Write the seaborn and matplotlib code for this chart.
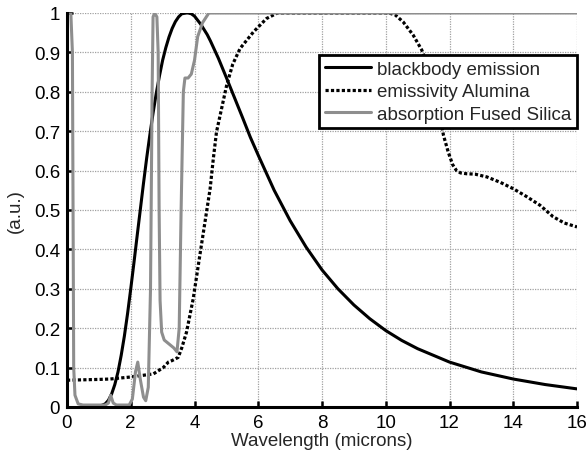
import matplotlib
matplotlib.use("Agg")
import matplotlib.pyplot as plt
import seaborn as sns

# Blackbody emission (normalized)
bb_x = [1.0, 1.2, 1.3, 1.4, 1.5, 1.6, 1.7, 1.8, 1.9, 2.0, 2.1, 2.2, 2.3, 2.4, 2.5, 2.6, 2.7,
        2.8, 2.9, 3.0, 3.1, 3.2, 3.3, 3.4, 3.5, 3.6, 3.75, 3.8, 3.9, 4.0, 4.2, 4.4, 4.5, 4.75,
        5.0, 5.25, 5.5, 5.75, 6.0, 6.5, 7.0, 7.5, 8.0, 8.5, 9.0, 9.5, 10.0, 10.5, 11.0, 12.0,
        13.0, 14.0, 15.0, 16.0]
bb_y = [0.001, 0.008, 0.017, 0.033, 0.057, 0.089, 0.131, 0.180, 0.237, 0.300, 0.366, 0.434,
        0.501, 0.568, 0.632, 0.691, 0.746, 0.796, 0.840, 0.880, 0.912, 0.939, 0.961, 0.978,
        0.990, 0.998, 1.000, 1.000, 0.998, 0.992, 0.971, 0.945, 0.929, 0.885, 0.836, 0.786,
        0.736, 0.685, 0.639, 0.550, 0.473, 0.406, 0.348, 0.300, 0.259, 0.224, 0.194, 0.169,
        0.148, 0.114, 0.089, 0.071, 0.057, 0.046]

# Emissivity of Alumina
al_x = [0.0, 1.0, 1.35, 1.98, 2.71, 3.02, 3.18, 3.3, 3.49, 3.6, 3.75, 3.96, 4.12, 4.28,
        4.49, 4.59, 4.69, 5.01, 5.2, 5.43, 5.85, 6.26, 6.6, 8.0, 10.1, 10.3, 10.55, 10.86,
        11.13, 11.4, 11.65, 11.81, 11.96, 12.1, 12.22, 12.35, 12.54, 12.8, 13.17, 13.6,
        14.0, 14.4, 14.84, 15.25, 15.6, 16.0]
al_y = [0.068, 0.070, 0.071, 0.076, 0.084, 0.100, 0.114, 0.118, 0.126, 0.150, 0.190, 0.275,
        0.360, 0.444, 0.554, 0.630, 0.698, 0.817, 0.870, 0.910, 0.952, 0.986, 1.000, 1.000,
        1.000, 0.995, 0.977, 0.944, 0.906, 0.850, 0.760, 0.690, 0.647, 0.615, 0.600, 0.594,
        0.592, 0.591, 0.584, 0.570, 0.554, 0.535, 0.512, 0.483, 0.467, 0.457]

# Absorption of Fused Silica
fs_x = [0.02, 0.12, 0.17, 0.19, 0.21, 0.25, 0.35, 0.5, 1.2, 1.3, 1.37, 1.45, 1.55, 1.95,
        2.05, 2.15, 2.22, 2.3, 2.4, 2.47, 2.55, 2.62, 2.67, 2.7, 2.75, 2.82, 2.86, 2.89,
        2.92, 2.97, 3.05, 3.2, 3.35, 3.45, 3.52, 3.58, 3.65, 3.7, 3.8, 3.9, 4.0, 4.1, 4.25,
        4.45, 16.0]
fs_y = [1.0, 1.0, 0.9, 0.5, 0.1, 0.03, 0.008, 0.005, 0.005, 0.01, 0.03, 0.01, 0.005, 0.005,
        0.02, 0.09, 0.114, 0.07, 0.025, 0.016, 0.05, 0.3, 0.8, 0.99, 1.0, 0.99, 0.9, 0.5,
        0.27, 0.19, 0.17, 0.16, 0.15, 0.14, 0.2, 0.5, 0.8, 0.835, 0.835, 0.845, 0.88, 0.94,
        0.975, 1.0, 1.0]

labels = ["blackbody emission", "emissivity Alumina", "absorption Fused Silica"]
x_ticks = [0, 2, 4, 6, 8, 10, 12, 14, 16]
y_ticks = [0, 0.1, 0.2, 0.3, 0.4, 0.5, 0.6, 0.7, 0.8, 0.9, 1]
y_tick_labels = ["0", "0.1", "0.2", "0.3", "0.4", "0.5", "0.6", "0.7", "0.8", "0.9", "1"]

sns.set_style("ticks")
plt.rcParams["font.family"] = ["Liberation Sans", "DejaVu Sans"]
FS = 13.5
plt.rcParams["font.size"] = FS

fig = plt.figure(figsize=(5.87, 4.6), dpi=100)
ax = fig.add_axes([67/587, 1 - 408/460, (577-67)/587, (408-14)/460])

sns.lineplot(x=bb_x, y=bb_y, ax=ax, color="black", linewidth=2.2, label=labels[0],
             estimator=None, sort=False)
sns.lineplot(x=al_x, y=al_y, ax=ax, color="black", linewidth=2.3, label=labels[1],
             estimator=None, sort=False)
sns.lineplot(x=fs_x, y=fs_y, ax=ax, color="#8e8e8e", linewidth=2.2, label=labels[2],
             estimator=None, sort=False)
lines = ax.get_lines()
for ln in lines:
    ln.set_solid_joinstyle("round")
lines[1].set_dashes((1.0, 0.7))
lines[1].set_dash_capstyle("butt")

ax.set_xlim(0, 16)
ax.set_ylim(0, 1)
ax.set_xticks(x_ticks)
ax.set_xticklabels([str(t) for t in x_ticks])
ax.set_yticks(y_ticks)
ax.set_yticklabels(y_tick_labels)
ax.grid(True, linestyle=(0, (1, 1)), color="#a0a0a0", linewidth=0.9)
ax.set_axisbelow(True)

for side in ["top", "right"]:
    ax.spines[side].set_visible(False)
for side in ["left", "bottom"]:
    ax.spines[side].set_linewidth(2.2)
    ax.spines[side].set_color("black")
ax.tick_params(direction="in", length=4, width=1.8, colors="black", labelsize=FS, pad=5)

ax.set_xlabel("Wavelength (microns)", fontsize=FS, labelpad=1)
ax.set_ylabel("(a.u.)", fontsize=FS, labelpad=7)

leg = ax.legend(loc="upper right", bbox_to_anchor=(1.0, 0.893), frameon=True, fancybox=False,
                edgecolor="black", fontsize=FS, handlelength=2.5, borderpad=0.3,
                labelspacing=0.28, handletextpad=0.3, borderaxespad=0.0)
leg.get_frame().set_linewidth(2.0)
leg.get_frame().set_alpha(1.0)

fig.savefig("out.png", dpi=100)
